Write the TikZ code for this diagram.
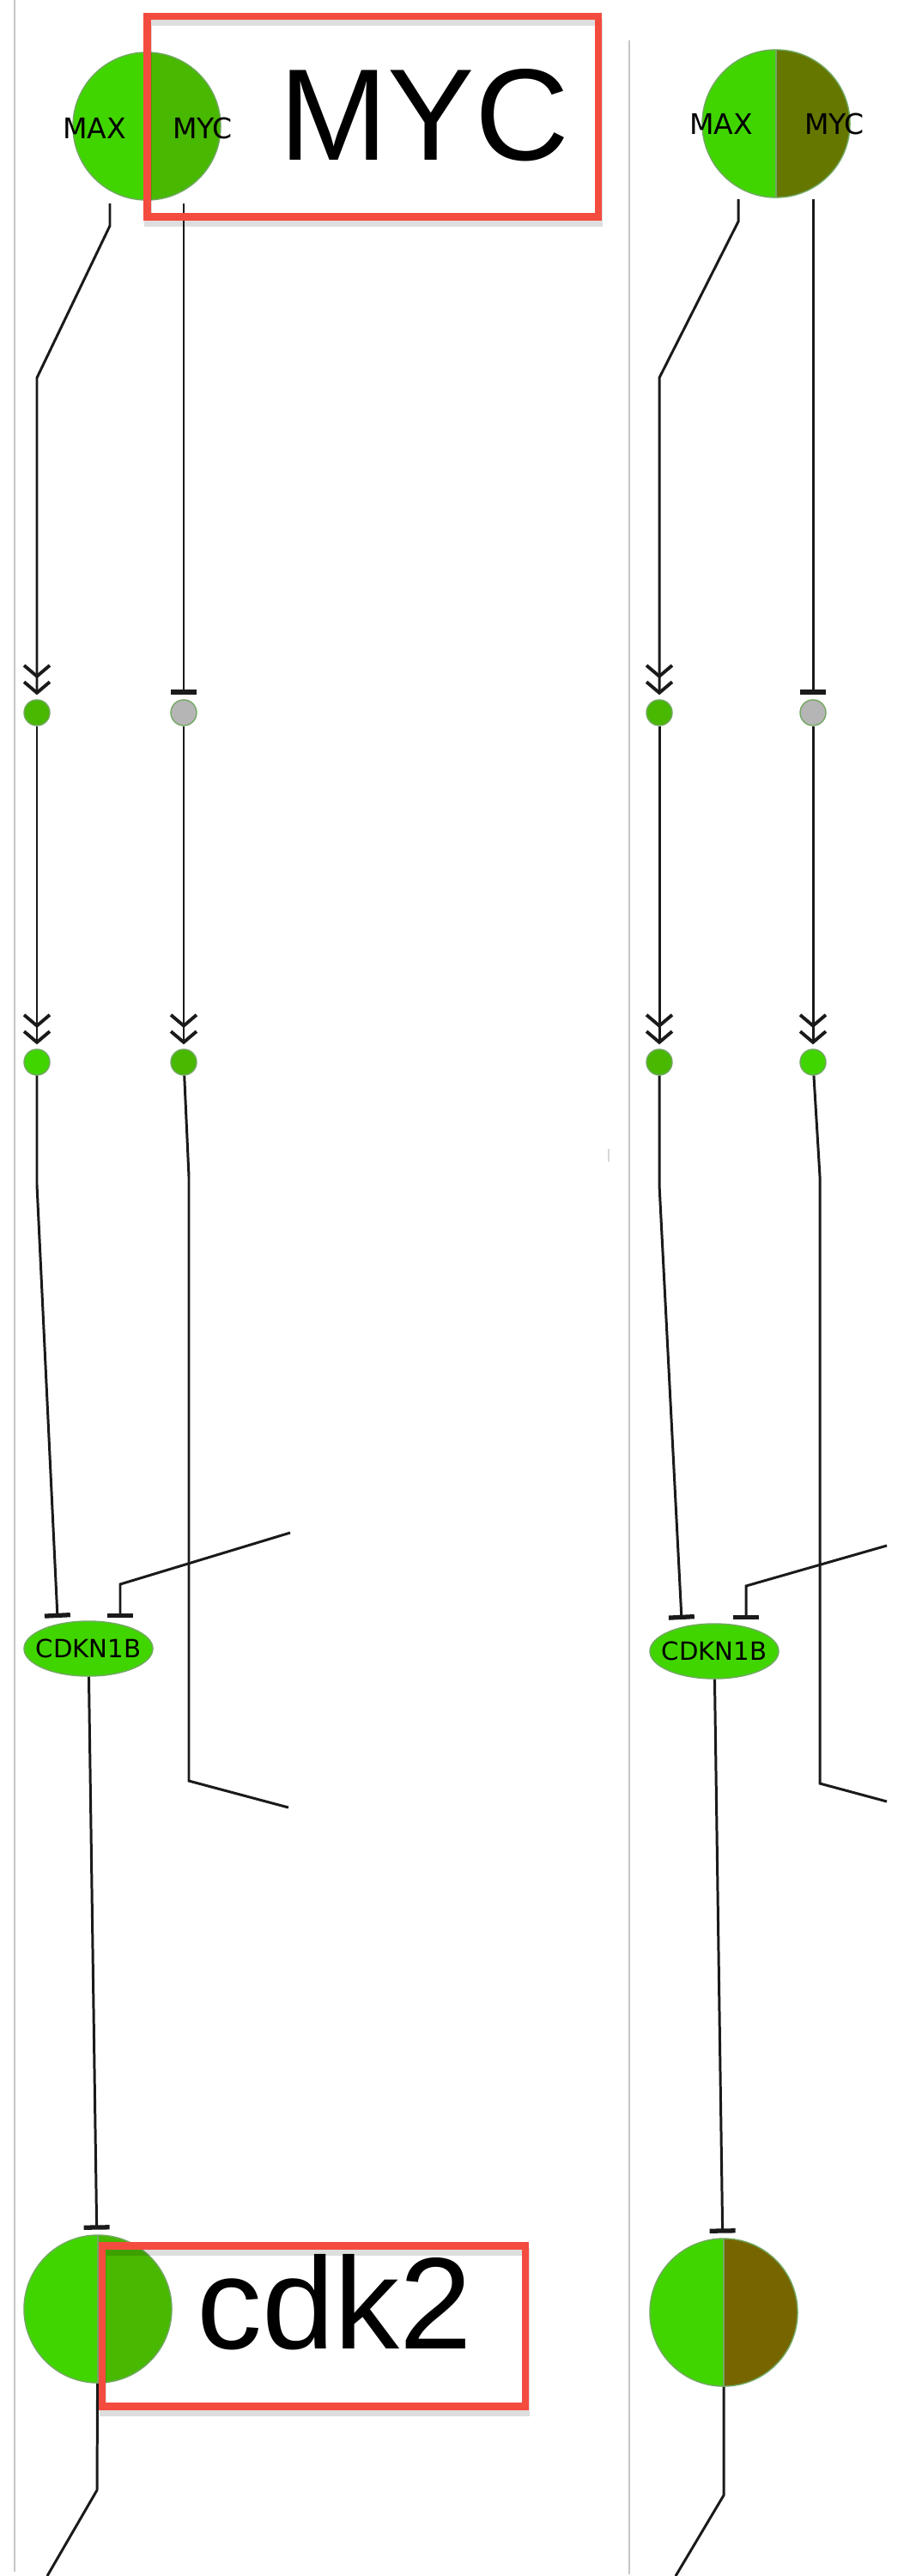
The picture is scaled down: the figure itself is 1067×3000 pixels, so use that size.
\documentclass[tikz,border=0pt]{standalone}
\usepackage{fontspec}
\newfontfamily\bigfont{Liberation Sans}
\newfontfamily\labfont{DejaVu Sans}
\usetikzlibrary{arrows.meta,shapes.geometric}
\definecolor{gbright}{HTML}{41D500}
\definecolor{gdark}{HTML}{48B800}
\definecolor{golive}{HTML}{667700}
\definecolor{gbrown}{HTML}{776600}
\definecolor{nodegray}{HTML}{B5B5B5}
\definecolor{rimgreen}{HTML}{72A862}
\definecolor{boxred}{HTML}{F44B3F}
\definecolor{panelgray}{HTML}{C6C6C6}
\definecolor{ink}{HTML}{1A1A1A}
\begin{document}
\begin{tikzpicture}[x=0.01cm,y=-0.01cm,
  conn/.style={draw=ink, line width=0.85pt},
  chev/.style={conn, -{Straight Barb[length=3.6pt,width=8.5pt,line width=1.1pt,sep=0.6pt] Straight Barb[length=3.6pt,width=8.5pt,line width=1.1pt]}, shorten >=1.4pt},
  tbar/.style={conn, -{Bar[width=8.5pt,line width=1.5pt]}, shorten >=1.6pt},
  pnode/.style={circle, inner sep=0pt, minimum size=0.3cm, draw=rimgreen, line width=0.4pt},
  half/.style 2 args={circle, inner sep=0pt, minimum size=1.72cm, fill=#1, draw=rimgreen, line width=0.4pt,
     path picture={\fill[#2] (path picture bounding box.north) rectangle (path picture bounding box.south east);
                   \draw[rimgreen, line width=0.6pt] (path picture bounding box.north) -- (path picture bounding box.south);}},
  oval/.style={ellipse, inner sep=0pt, minimum width=1.5cm, minimum height=0.64cm, fill=gbright, draw=rimgreen, line width=0.4pt},
  ovallab/.style={inner sep=0pt, font=\labfont\fontsize{8.3pt}{9pt}\selectfont},
  lab/.style={anchor=base, inner sep=0pt, font=\labfont\fontsize{9.4pt}{10pt}\selectfont},
  biglab/.style={anchor=base, inner sep=0pt, font=\bigfont\fontsize{43.2pt}{44pt}\selectfont},
  redbox/.style={draw=boxred, line width=2.55pt},
  boxshadow/.style={draw=black, draw opacity=0.13, line width=2.55pt},
  panel/.style={draw=panelgray, line width=0.55pt}
]
\useasboundingbox[fill=white] (0,0) rectangle (1067,3000);

% panel borders
\draw[panel] (17,0) -- (17,2995);
\draw[panel] (733,47) -- (733,2998);
\draw[draw=panelgray!70, line width=0.5pt] (709,1338) -- (709,1353);

% ================= panel 1 =================
\node[half={gbright}{gdark}] (c1) at (171,147) {};
\node[lab] (c1a) at (110,162) {MAX};
\node[lab] (c1b) at (236,162) {MYC};
\node[pnode, fill=gdark] (n11) at (43,830) {};
\node[pnode, fill=nodegray] (n12) at (214,830) {};
\node[pnode, fill=gbright] (n21) at (43,1237) {};
\node[pnode, fill=gdark] (n22) at (214,1237) {};
\node[oval] (cd1) at (103,1920) {};
\node[ovallab] (cd1l) at (cd1) {CDKN1B};
\node[half={gbright}{gdark}] (k1) at (114,2689) {};

\coordinate (s11) at (128,237);
\coordinate (s12) at (128,263);
\coordinate (s13) at (43,440);
\coordinate (s14) at (214,237);
\draw[chev] (s11) -- (s12) -- (s13) -- (n11);
\draw[tbar] (s14) -- (n12);
\draw[chev] (n11) -- (n21);
\draw[chev] (n12) -- (n22);
\coordinate (p11) at (43,1380);
\coordinate (t11) at (67,1884);
\draw[tbar, shorten >=0pt] (n21) -- (p11) -- (t11);
\coordinate (e11) at (338,1785);
\coordinate (e12) at (140,1845);
\coordinate (t12) at (140,1884);
\draw[tbar, shorten >=0pt] (e11) -- (e12) -- (t12);
\coordinate (f11) at (220,1370);
\coordinate (f12) at (220,2074);
\coordinate (f13) at (336,2105);
\draw[conn] (n22) -- (f11) -- (f12) -- (f13);
\draw[tbar] (cd1) -- (k1);
\coordinate (q11) at (113,2900);
\coordinate (q12) at (55,3000);
\draw[conn] (k1) -- (q11) -- (q12);

% highlight boxes
\draw[boxshadow] (172.5,26) rectangle (698,259.5);
\draw[redbox] (171.5,19) rectangle (697,252.5);
\node[biglab] (myc) at (494,187) {MYC};
\draw[boxshadow] (120,2622) rectangle (613,2809.5);
\draw[redbox] (119,2615) rectangle (612,2802.5);
\node[biglab] (cdk) at (390,2735) {cdk2};

% ================= panel 2 =================
\node[half={gbright}{golive}] (c2) at (904,144) {};
\node[lab] (c2a) at (840,157) {MAX};
\node[lab] (c2b) at (972,157) {MYC};
\node[pnode, fill=gdark] (n31) at (768,830) {};
\node[pnode, fill=nodegray] (n32) at (947,830) {};
\node[pnode, fill=gdark] (n41) at (768,1237) {};
\node[pnode, fill=gbright] (n42) at (947,1237) {};
\node[oval] (cd2) at (832,1923) {};
\node[ovallab] (cd2l) at (cd2) {CDKN1B};
\node[half={gbright}{gbrown}] (k2) at (843,2693) {};

\coordinate (s21) at (860,232);
\coordinate (s22) at (860,258);
\coordinate (s23) at (768,440);
\coordinate (s24) at (947,232);
\draw[chev] (s21) -- (s22) -- (s23) -- (n31);
\draw[tbar] (s24) -- (n32);
\draw[chev] (n31) -- (n41);
\draw[chev] (n32) -- (n42);
\coordinate (p21) at (768,1380);
\coordinate (t21) at (794,1886);
\draw[tbar, shorten >=0pt] (n41) -- (p21) -- (t21);
\coordinate (e21) at (1033,1800);
\coordinate (e22) at (869,1847);
\coordinate (t22) at (869,1886);
\draw[tbar, shorten >=0pt] (e21) -- (e22) -- (t22);
\coordinate (f21) at (955,1370);
\coordinate (f22) at (955,2077);
\coordinate (f23) at (1033,2098);
\draw[conn] (n42) -- (f21) -- (f22) -- (f23);
\draw[tbar] (cd2) -- (k2);
\coordinate (q21) at (843,2906);
\coordinate (q22) at (787,3000);
\draw[conn] (k2) -- (q21) -- (q22);
\end{tikzpicture}
\end{document}
